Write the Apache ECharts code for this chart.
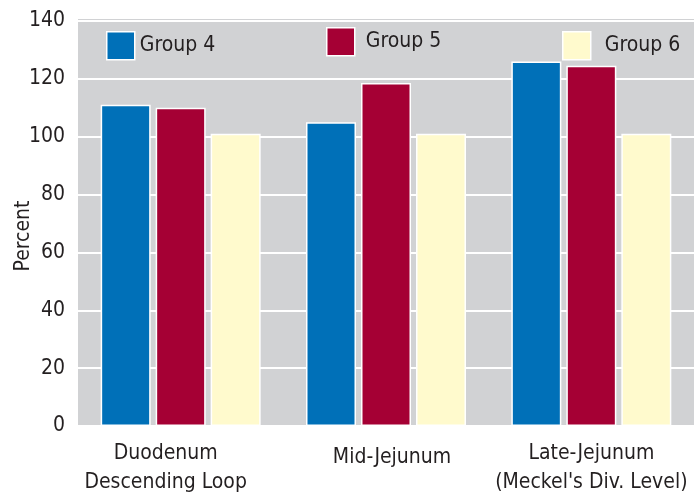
<!DOCTYPE html>
<html><head><meta charset="utf-8">
<script src="https://cdn.jsdelivr.net/npm/echarts@6/dist/echarts.min.js"></script>
<style>html,body{margin:0;padding:0;background:#fff}#c{width:694px;height:492px}</style>
</head><body><div id="c"></div>
<script>
const categories = ['Duodenum\nDescending Loop', 'Mid-Jejunum', "Late-Jejunum\n(Meckel's Div. Level)"];
const group4 = [111, 105, 126];
const group5 = [110, 118.5, 124.5];
const group6 = [101, 101, 101];
const yTicks = [0, 20, 40, 60, 80, 100, 120, 140];

const FONT = "'Liberation Sans Narrow', 'DejaVu Sans Condensed', 'Liberation Sans', sans-serif";
const TXT = '#231f20';
const chart = echarts.init(document.getElementById('c'));
const legendBase = {
  itemWidth: 28, itemHeight: 28, itemGap: 0, icon: 'rect',
  itemStyle: { borderColor: '#fff', borderWidth: 1.5 },
  textStyle: { fontFamily: FONT, fontSize: 21, color: TXT },
  selectedMode: false
};
function bar(name, data, color) {
  return {
    name, type: 'bar', data, barWidth: 50, barGap: '10%',
    itemStyle: { color, borderColor: '#fff', borderWidth: 1.5 }
  };
}
chart.setOption({
  animation: false,
  grid: { left: 78, right: 0, top: 18, bottom: 66, show: true, backgroundColor: '#d1d2d4', borderWidth: 0,
          containLabel: false, outerBoundsMode: 'none' },
  legend: [
    Object.assign({}, legendBase, { data: ['Group 4'], left: 101, top: 26, textStyle: Object.assign({}, legendBase.textStyle, { padding: [0, 0, 0, 0] }) }),
    Object.assign({}, legendBase, { data: ['Group 5'], left: 321, top: 22, textStyle: Object.assign({}, legendBase.textStyle, { padding: [0, 0, 0, 6] }) }),
    Object.assign({}, legendBase, { data: ['Group 6'], left: 557, top: 26, textStyle: Object.assign({}, legendBase.textStyle, { padding: [12, 0, 0, 9] }) })
  ],
  xAxis: {
    type: 'category',
    data: [
      { value: categories[0], textStyle: { padding: [0, 30, 0, 0] } },
      { value: categories[1], textStyle: { padding: [4, 0, 0, 12] } },
      { value: categories[2] }
    ],
    axisLine: { show: false }, axisTick: { show: false },
    axisLabel: { fontFamily: FONT, fontSize: 21, color: TXT, margin: 13, lineHeight: 29, interval: 0 }
  },
  yAxis: {
    type: 'value', min: 0, max: 141, interval: 20,
    name: 'Percent', nameLocation: 'middle', nameGap: 44, nameMoveOverlap: false,
    nameTextStyle: { fontFamily: FONT, fontSize: 21, color: TXT, padding: [0, 28, 0, 0] },
    axisLine: { show: false }, axisTick: { show: false },
    axisLabel: { fontFamily: FONT, fontSize: 21, color: TXT, margin: 13,
      formatter: v => yTicks.includes(v) ? String(v) : '' },
    splitLine: { lineStyle: { color: '#ffffff', width: 2 } }
  },
  series: [
    bar('Group 4', group4, '#0070b8'),
    bar('Group 5', group5, '#a50034'),
    bar('Group 6', group6, '#fffacd')
  ]
});
</script></body></html>
